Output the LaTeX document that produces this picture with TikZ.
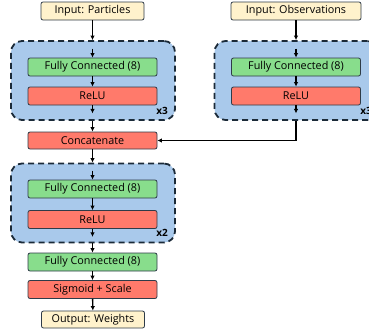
\documentclass[tikz,border=0pt]{standalone}
\usepackage{fontspec}
\setmainfont{Open Sans}
\usetikzlibrary{arrows.meta,calc}
\definecolor{inpfill}{HTML}{FFF2CC}
\definecolor{fcfill}{HTML}{88DD8C}
\definecolor{actfill}{HTML}{FF7A6B}
\definecolor{blkfill}{HTML}{A9C9EB}
\definecolor{blkdraw}{HTML}{1B2A38}
\definecolor{boxdraw}{HTML}{2E3B48}
\tikzset{
  every node/.style={font=\fontsize{10.8}{12}\selectfont, inner sep=0pt},
  base/.style={draw=boxdraw, line width=0.8pt, rounded corners=2pt, minimum height=18pt},
  inp/.style={base, fill=inpfill},
  fcbox/.style={base, fill=fcfill, minimum width=129pt},
  actbox/.style={base, fill=actfill, minimum width=129pt},
  blk/.style={draw=blkdraw, fill=blkfill, line width=1.8pt, dash pattern=on 6pt off 4pt, rounded corners=11pt, minimum width=164pt, minimum height=79pt},
  rep/.style={font=\bfseries\fontsize{10}{11}\selectfont},
  arr/.style={line width=1.4pt, -{Latex[length=4.5pt,width=4.5pt]}},
}
\begin{document}
\begin{tikzpicture}[x=1pt,y=-1pt]
\useasboundingbox (0,0) rectangle (369,333);
% blocks
\node[blk] (blk1) at (93,80.5) {};
\node[blk] (blk2) at (296.5,80.5) {};
\node[blk] (blk3) at (93,203) {};
% inputs
\node[inp, minimum width=103pt] (inP) at (92.5,11) {Input: Particles};
\node[inp, minimum width=130pt] (inO) at (296,11) {Input: Observations};
% branch 1
\node[fcbox] (fc1) at (92.5,67) {Fully Connected (8)};
\node[actbox] (relu1) at (92.5,96) {ReLU};
\node[rep] (x1) at (162,110.5) {x3};
% branch 2
\node[fcbox] (fc2) at (296,67) {Fully Connected (8)};
\node[actbox] (relu2) at (296,96) {ReLU};
\node[rep] (x2) at (366,110.5) {x3};
% concat
\node[actbox, minimum height=17pt] (cat) at (92.5,140.5) {Concatenate};
% block 3
\node[fcbox] (fc3) at (92.5,189) {Fully Connected (8)};
\node[actbox] (relu3) at (92.5,219.5) {ReLU};
\node[rep] (x3) at (162,233) {x2};
% tail
\node[fcbox] (fc4) at (92.5,262) {Fully Connected (8)};
\node[actbox] (sig) at (92.5,289.5) {Sigmoid + Scale};
\node[inp, minimum width=103pt, minimum height=17pt] (out) at (93,319.5) {Output: Weights};
% helper coordinates
\coordinate (t1) at ($(fc1.north)+(0,-9)$);
\coordinate (b1) at ($(relu1.south)+(0,8)$);
\coordinate (t2) at ($(fc2.north)+(0,-9)$);
\coordinate (b2) at ($(relu2.south)+(0,8)$);
\coordinate (t3) at ($(fc3.north)+(0,-9)$);
\coordinate (b3) at ($(relu3.south)+(0,8)$);
% arrows
\draw[arr] (inP.south) -- (inP.south |- blk1.north);
\draw[arr] (t1) -- (fc1.north);
\draw[arr] (fc1) -- (relu1);
\draw[arr] (relu1.south) -- (b1);
\draw[arr] (blk1.south -| cat.north) -- (cat.north);
\draw[arr] (inO.south) -- (inO.south |- blk2.north);
\draw[arr] (t2) -- (fc2.north);
\draw[arr] (fc2) -- (relu2);
\draw[arr] (relu2.south) -- (b2);
\draw[arr] (blk2.south -| relu2.south) |- (cat.east);
\draw[arr] (cat.south) -- (cat.south |- blk3.north);
\draw[arr] (t3) -- (fc3.north);
\draw[arr] (fc3) -- (relu3);
\draw[arr] (relu3.south) -- (b3);
\draw[arr] (blk3.south -| fc4.north) -- (fc4.north);
\draw[arr] (fc4) -- (sig);
\draw[arr] (sig) -- (out);
\end{tikzpicture}
\end{document}
